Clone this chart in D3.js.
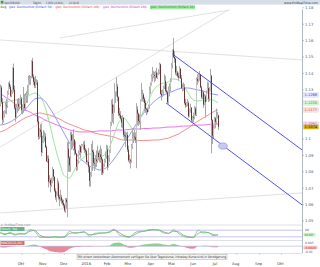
<!DOCTYPE html>
<html><head><meta charset="utf-8">
<script src="https://cdn.jsdelivr.net/npm/d3@7"></script>
<style>html,body{margin:0;padding:0;background:#fff;}svg{display:block;font-family:"DejaVu Sans",sans-serif;}</style>
</head><body><svg id="c" width="320" height="267"></svg>
<script>
// ---------- DATA ----------
const firstOpen = 1.1211; // close of 31.08.2015
const close = [
1.1314,1.1227,1.1118,1.1148,1.1168,1.1205,1.1201,1.1278,1.1337,1.1318,1.1264,1.1285,1.1433,1.1300,1.1190,1.1131,1.1193,1.1214,1.1198,1.1240,1.1246,1.1177,
1.1195,1.1214,1.1189,1.1262,1.1273,1.1278,1.1357,1.1364,1.1377,1.1474,1.1380,1.1349,1.1326,1.1345,1.1345,1.1108,1.1014,1.1056,1.1045,1.0920,1.0980,1.1005,
1.1015,1.0950,1.0865,1.0880,1.0740,1.0750,1.0720,1.0740,1.0815,1.0770,1.0685,1.0645,1.0660,1.0730,1.0645,1.0635,1.0645,1.0625,1.0610,1.0595,1.0565,
1.0630,1.0615,1.0940,1.0885,1.0840,1.0895,1.1025,1.0990,1.0990,1.0995,1.0935,1.0910,1.0830,1.0865,1.0915,1.0955,1.0920,1.0965,1.0965,1.0965,1.0935,1.0925,1.0860,
1.0860,1.0830,1.0745,1.0780,1.0930,1.0920,1.0855,1.0850,1.0875,1.0865,1.0915,1.0890,1.0905,1.0890,1.0875,1.0795,1.0845,1.0870,1.0895,1.0935,1.0830,
1.0885,1.0920,1.1100,1.1210,1.1155,1.1195,1.1290,1.1290,1.1320,1.1255,1.1155,1.1145,1.1125,1.1100,1.1130,1.1025,1.1020,1.1015,1.1025,1.0935,1.0870,
1.0870,1.0865,1.0955,1.1000,1.1015,1.1010,1.0995,1.1180,1.1155,1.1110,1.1105,1.1230,1.1270,1.1270,1.1245,1.1220,1.1185,1.1180,1.1165,1.1200,1.1300,1.1335,1.1380,
1.1390,1.1390,1.1385,1.1405,1.1375,1.1400,1.1405,1.1455,1.1275,1.1265,1.1285,1.1315,1.1355,1.1295,1.1285,1.1225,1.1265,1.1300,1.1320,1.1350,1.1450,
1.1545,1.1500,1.1490,1.1405,1.1405,1.1385,1.1375,1.1430,1.1370,1.1310,1.1315,1.1315,1.1220,1.1205,1.1220,1.1220,1.1140,1.1180,1.1190,1.1115,1.1135,1.1130,
1.1185,1.1150,1.1365,1.1355,1.1390,1.1395,1.1315,1.1255,1.1285,1.1210,1.1260,1.1225,1.1280,1.1310,1.1245,1.1295,1.1385,1.1115,1.1020,1.1065,1.1125,1.1105,
1.1135,1.1145,1.1074];
const high = [
1.1332,1.1325,1.1250,1.1170,1.1175,1.1225,1.1245,1.1295,1.1345,1.1355,1.1330,1.1300,1.1437,1.1460,1.1325,1.1215,1.1215,1.1245,1.1250,1.1245,1.1270,1.1255,
1.1212,1.1317,1.1275,1.1280,1.1290,1.1330,1.1387,1.1390,1.1385,1.1480,1.1495,1.1395,1.1375,1.1385,1.1365,1.1360,1.1135,1.1065,1.1090,1.1095,1.1020,1.1055,
1.1045,1.1035,1.0960,1.0900,1.0900,1.0780,1.0760,1.0765,1.0830,1.0815,1.0755,1.0700,1.0680,1.0760,1.0745,1.0660,1.0690,1.0660,1.0635,1.0630,1.0605,
1.0640,1.0640,1.0981,1.0990,1.0895,1.0900,1.1045,1.1045,1.1030,1.1060,1.1000,1.0985,1.0915,1.0875,1.0930,1.0965,1.0960,1.0970,1.0970,1.0985,1.0990,1.0945,1.0935,
1.0870,1.0945,1.0840,1.0800,1.0970,1.0990,1.0935,1.0885,1.0900,1.0930,1.0960,1.0925,1.0935,1.0960,1.0940,1.0880,1.0850,1.0880,1.0925,1.0965,1.0960,
1.0900,1.0935,1.1105,1.1240,1.1245,1.1210,1.1340,1.1290,1.1376,1.1335,1.1260,1.1190,1.1170,1.1140,1.1145,1.1130,1.1050,1.1045,1.1040,1.1045,1.0960,
1.0905,1.0880,1.0970,1.1065,1.1040,1.1055,1.1040,1.1218,1.1200,1.1160,1.1150,1.1240,1.1340,1.1300,1.1280,1.1255,1.1235,1.1190,1.1190,1.1210,1.1320,1.1345,1.1395,
1.1440,1.1415,1.1410,1.1415,1.1435,1.1405,1.1425,1.1465,1.1460,1.1300,1.1300,1.1325,1.1395,1.1385,1.1340,1.1295,1.1275,1.1320,1.1340,1.1370,1.1465,
1.1545,1.1616,1.1535,1.1495,1.1445,1.1415,1.1405,1.1445,1.1430,1.1390,1.1335,1.1345,1.1335,1.1245,1.1225,1.1245,1.1230,1.1185,1.1215,1.1195,1.1140,1.1160,
1.1200,1.1195,1.1375,1.1395,1.1395,1.1415,1.1395,1.1325,1.1300,1.1295,1.1275,1.1270,1.1295,1.1350,1.1345,1.1315,1.1427,1.1390,1.1120,1.1085,1.1135,1.1135,
1.1185,1.1165,1.1145];
const low = [
1.1200,1.1215,1.1087,1.1100,1.1130,1.1155,1.1150,1.1190,1.1270,1.1305,1.1255,1.1255,1.1275,1.1285,1.1180,1.1105,1.1125,1.1160,1.1170,1.1180,1.1210,1.1155,
1.1150,1.1160,1.1175,1.1170,1.1220,1.1220,1.1270,1.1330,1.1330,1.1370,1.1370,1.1330,1.1310,1.1310,1.1330,1.1095,1.0995,1.1000,1.1010,1.0895,1.0915,1.0975,
1.0985,1.0945,1.0860,1.0855,1.0705,1.0730,1.0675,1.0710,1.0730,1.0745,1.0675,1.0630,1.0615,1.0655,1.0630,1.0590,1.0620,1.0605,1.0595,1.0580,1.0555,
1.0550,1.0575,1.0524,1.0800,1.0800,1.0800,1.0880,1.0935,1.0950,1.0955,1.0900,1.0905,1.0805,1.0810,1.0850,1.0900,1.0885,1.0915,1.0955,1.0935,1.0915,1.0900,1.0850,
1.0850,1.0795,1.0710,1.0710,1.0770,1.0805,1.0835,1.0805,1.0825,1.0830,1.0855,1.0870,1.0860,1.0855,1.0780,1.0780,1.0790,1.0830,1.0855,1.0880,1.0810,
1.0825,1.0860,1.0915,1.1080,1.1100,1.1090,1.1160,1.1220,1.1260,1.1230,1.1140,1.1130,1.1120,1.1070,1.1065,1.1010,1.0990,1.0950,1.0990,1.0920,1.0860,
1.0850,1.0820,1.0855,1.0940,1.0975,1.0990,1.0975,1.0822,1.1085,1.1080,1.1090,1.1055,1.1230,1.1230,1.1225,1.1170,1.1160,1.1145,1.1155,1.1165,1.1185,1.1275,1.1325,
1.1350,1.1370,1.1345,1.1355,1.1370,1.1365,1.1390,1.1395,1.1270,1.1235,1.1255,1.1265,1.1305,1.1285,1.1275,1.1215,1.1215,1.1260,1.1260,1.1290,1.1350,
1.1430,1.1495,1.1465,1.1390,1.1385,1.1375,1.1355,1.1370,1.1365,1.1305,1.1290,1.1295,1.1210,1.1190,1.1195,1.1200,1.1130,1.1135,1.1160,1.1100,1.1100,1.1100,
1.1120,1.1140,1.1140,1.1330,1.1345,1.1355,1.1310,1.1245,1.1245,1.1190,1.1205,1.1130,1.1225,1.1280,1.1225,1.1230,1.1290,1.0912,1.0970,1.1005,1.1065,1.1065,
1.1090,1.1125,1.1055];

// indicator values read every 5 trading days (index 0,5,10,...,220)
const sampleStep = 5;
const sma20 = [1.1220,1.1226,1.1232,1.1238,1.1244,1.1250,1.1268,1.1280,1.1262,1.1201,1.1091,1.0963,1.0854,1.0774,1.0762,1.0811,1.0860,1.0890,1.0909,1.0902,1.0890,1.0902,1.0945,1.1024,1.1104,1.1128,1.1091,1.1055,1.1104,1.1177,1.1238,1.1299,1.1329,1.1341,1.1348,1.1366,1.1360,1.1329,1.1280,1.1238,1.1232,1.1238,1.1244,1.1238,1.1220];
const sma50 = [1.1085,1.1091,1.1104,1.1122,1.1146,1.1177,1.1213,1.1244,1.1250,1.1232,1.1189,1.1140,1.1085,1.1030,1.0976,1.0927,1.0884,1.0860,1.0835,1.0823,1.0811,1.0817,1.0841,1.0878,1.0921,1.0970,1.1018,1.1067,1.1116,1.1159,1.1195,1.1226,1.1250,1.1268,1.1280,1.1293,1.1305,1.1311,1.1311,1.1305,1.1299,1.1293,1.1280,1.1274,1.1268];
const sma100 = [1.1043,1.1055,1.1073,1.1091,1.1110,1.1128,1.1140,1.1152,1.1159,1.1152,1.1146,1.1134,1.1122,1.1104,1.1091,1.1079,1.1067,1.1055,1.1049,1.1037,1.1030,1.1024,1.1018,1.1012,1.1000,1.0994,1.0994,1.0994,1.0991,1.0991,1.0991,1.0994,1.0994,1.1000,1.1006,1.1018,1.1030,1.1049,1.1067,1.1091,1.1110,1.1128,1.1146,1.1165,1.1177];
const sma200 = [1.1280,1.1256,1.1238,1.1213,1.1195,1.1177,1.1165,1.1146,1.1134,1.1116,1.1104,1.1091,1.1079,1.1067,1.1055,1.1049,1.1043,1.1043,1.1043,1.1046,1.1049,1.1049,1.1049,1.1052,1.1055,1.1055,1.1058,1.1061,1.1061,1.1064,1.1064,1.1067,1.1067,1.1070,1.1073,1.1073,1.1076,1.1079,1.1079,1.1082,1.1085,1.1085,1.1088,1.1091,1.1091];
const stochK = [60,40,60,35,50,45,85,70,15,15,15,20,15,20,70,50,60,65,25,50,55,55,65,90,40,25,15,50,70,70,85,85,80,55,50,85,50,25,15,15,80,55,60,30,40];
const stochD = [55,48,50,45,45,47,70,78,35,18,15,18,17,18,50,58,57,63,40,40,52,55,60,80,60,32,20,35,60,70,78,85,82,65,52,70,65,35,20,15,50,65,58,42,35];
const macdMilli = [-2,-2.5,-1,0.5,0,0.5,2,3,-1,-5,-9,-11,-12,-11,-5,-2,-1.5,-0.5,-1,-0.5,-0.5,0.5,1,6,7,3,-3,-2.5,1,3,4,5,5,3,2,4,2,-1,-4,-5,0,1,1,-2,-2];

// drawn objects: [trading-day index, price]
const channelUpper = [[174,1.1518],[305,1.0933]];
const channelLower = [[167.5,1.1220],[305,1.0598]];
const grayLines = [
  [[0,1.0951],[242,1.1829]],
  [[0,1.1604],[305,1.1482]],
  [[60,1.1616],[232,1.1787]],
  [[0,1.0549],[305,1.0671]]
];
const markEllipse = [225, 1.0957];

const yTickValues = [1.05,1.06,1.07,1.08,1.09,1.10,1.13,1.14,1.15,1.16,1.17,1.18];
const yTickLabels = ["1.05","1.06","1.07","1.08","1.09","1.1","1.13","1.14","1.15","1.16","1.17","1.18"];
const monthLabels = ["Okt","Nov","Dez","2016","Feb","Mrz","Apr","Mai","Jun","Jul","Aug","Sep","Okt"];
const legendItems = [
  {t:"gleit. Durchschnitt (Einfach 50)", c:"#3535e0"},
  {t:"gleit. Durchschnitt (Einfach 100)", c:"#e03030"},
  {t:"gleit. Durchschnitt (Einfach 200)", c:"#c030c0"},
  {t:"gleit. Durchschnitt (Einfach 20)", c:"#1a8a1a"}
];

// ---------- LAYOUT ----------
const svg = d3.select("#c");
const plotR = 302;
const mainTop = 9.5, mainBot = 223;
const stTop = 227, stBot = 240;
const mdTop = 241, mdBot = 253;

const days = d3.timeDay.range(new Date(2015,8,1), new Date(2016,10,1)).filter(d => d.getDay()%6 !== 0);
const x = d3.scaleLinear().domain([0,305]).range([0.2, 0.2+305*0.99]);
const y = d3.scaleLinear().domain([1.05,1.18]).range([221,7.8]);
const ySt = d3.scaleLinear().domain([0,100]).range([stBot-1, stTop+1]);
const yMd = d3.scaleLinear().domain([-13,8]).range([mdBot, mdTop+1]);

// header
svg.append("rect").attr("x",0).attr("y",0).attr("width",320).attr("height",4.6).attr("fill","#d6dee8");
svg.append("rect").attr("x",0.8).attr("y",0.8).attr("width",2.6).attr("height",2.8).attr("fill","#3aa040");
const hdr = [["Spot EUR/USD",4.5,15],["Täglich",33,8],["1.1074 (-0.44%)",46,17],["21:18:43",69,10]];
hdr.forEach(h => svg.append("text").attr("x",h[1]).attr("y",3.6).attr("font-size",3).attr("fill","#333")
  .attr("textLength",h[2]).attr("lengthAdjust","spacingAndGlyphs").text(h[0]));
svg.append("text").attr("x",318).attr("y",3.6).attr("text-anchor","end").attr("font-size",3).attr("fill","#333").text("www.ProRealTime.com");

// legend line
svg.append("text").attr("x",0.5).attr("y",8.4).attr("font-size",3).attr("fill","#333").text("Avg:");
let lx = 9;
const lw = [43,44,44,44];
legendItems.forEach((d,k) => {
  if (k===3) svg.append("rect").attr("x",lx-0.5).attr("y",5.2).attr("width",lw[k]+1).attr("height",4.1).attr("fill","#a8e8a8");
  svg.append("text").attr("x",lx).attr("y",8.4).attr("font-size",3).attr("fill",d.c)
    .attr("textLength",lw[k]).attr("lengthAdjust","spacingAndGlyphs").text(d.t);
  lx += lw[k]+3.5;
});

// clip
svg.append("clipPath").attr("id","mc").append("rect").attr("x",0).attr("y",mainTop).attr("width",plotR).attr("height",mainBot-mainTop);
const g = svg.append("g").attr("clip-path","url(#mc)");

grayLines.forEach(l => g.append("line").attr("x1",x(l[0][0])).attr("y1",y(l[0][1])).attr("x2",x(l[1][0])).attr("y2",y(l[1][1]))
  .attr("stroke","#d4d4d4").attr("stroke-width",0.7));

const maLine = d3.line().x((d,k)=>x(k*sampleStep)).y(d=>y(d)).curve(d3.curveMonotoneX);
[[sma200,"#e84de8"],[sma100,"#f07070"],[sma50,"#7c7cf0"],[sma20,"#7fe07f"]].forEach(m =>
  g.append("path").attr("d",maLine(m[0])).attr("fill","none").attr("stroke",m[1]).attr("stroke-width",0.8));

close.forEach((c,i) => {
  const o = i===0 ? firstOpen : close[i-1];
  const h = Math.max(high[i],o,c), l = Math.min(low[i],o,c);
  const cx = Math.round(x(i));
  g.append("line").attr("x1",cx+0.5).attr("x2",cx+0.5).attr("y1",y(h)).attr("y2",y(l)).attr("stroke","#a9a9a9").attr("stroke-width",1);
  const top = y(Math.max(o,c)), bh = Math.max(0.8, Math.abs(y(o)-y(c)));
  g.append("rect").attr("x",cx).attr("y",top).attr("width",1).attr("height",bh).attr("fill", c>=o ? "#c4c4c4" : "#6a3434");
});

[channelUpper,channelLower].forEach(l => g.append("line").attr("x1",x(l[0][0])).attr("y1",y(l[0][1])).attr("x2",x(l[1][0])).attr("y2",y(l[1][1]))
  .attr("stroke","#3d3df0").attr("stroke-width",0.9));
g.append("ellipse").attr("cx",x(markEllipse[0])).attr("cy",y(markEllipse[1])).attr("rx",4.3).attr("ry",3.1)
  .attr("fill","#c8c8f0").attr("stroke","#8a8ad8").attr("stroke-width",0.6);

svg.append("text").attr("x",0.5).attr("y",225.5).attr("font-size",3).attr("fill","#666").text("© ProRealTime.com");

// right axis
svg.append("line").attr("x1",plotR+0.5).attr("x2",plotR+0.5).attr("y1",mainTop).attr("y2",mdBot).attr("stroke","#9aa4b0").attr("stroke-width",0.8);
yTickValues.forEach((v,k) => {
  svg.append("line").attr("x1",plotR).attr("x2",plotR+2).attr("y1",y(v)).attr("y2",y(v)).attr("stroke","#9aa4b0").attr("stroke-width",0.6);
  svg.append("text").attr("x",plotR+3).attr("y",y(v)+1.4).attr("font-size",3.8).attr("fill","#555").text(yTickLabels[k]);
});
const tags = [
  [sma50[sma50.length-1],"#e6e6fa","#3535e0"],
  [sma20[sma20.length-1],"#d6f5d6","#2a9a2a"],
  [sma100[sma100.length-1],"#fbe0e0","#e03030"],
  [sma200[sma200.length-1],"#f6dcf6","#c030c0"],
  [close[close.length-1],"#d8a800","#222"]
];
tags.forEach(t => {
  svg.append("rect").attr("x",plotR+1.5).attr("y",y(t[0])-2.2).attr("width",15).attr("height",4.4).attr("fill",t[1]).attr("stroke","#ccc").attr("stroke-width",0.3);
  svg.append("text").attr("x",plotR+2.5).attr("y",y(t[0])+1.3).attr("font-size",3.6).attr("fill",t[2]).text(t[0].toFixed(4));
});

[[mainBot+2],[stBot+0.5],[mdBot+0.5]].forEach(p => svg.append("line").attr("x1",0).attr("x2",plotR).attr("y1",p[0]).attr("y2",p[0]).attr("stroke","#c8ccd4").attr("stroke-width",0.6));

// stochastic panel
[80,20].forEach(v => svg.append("line").attr("x1",0).attr("x2",plotR).attr("y1",ySt(v)).attr("y2",ySt(v)).attr("stroke","#b0a8e8").attr("stroke-width",0.7));
const stLine = d3.line().x((d,k)=>x(k*sampleStep)).y(d=>ySt(d)).curve(d3.curveMonotoneX);
svg.append("path").attr("d",stLine(stochD)).attr("fill","none").attr("stroke","#6a7a5a").attr("stroke-width",0.6);
svg.append("path").attr("d",stLine(stochK)).attr("fill","none").attr("stroke","#5ad25a").attr("stroke-width",0.8);
svg.append("rect").attr("x",0.5).attr("y",stTop).attr("width",24).attr("height",4).attr("fill","#66b28c");
svg.append("text").attr("x",1.2).attr("y",stTop+3.1).attr("font-size",3.2).attr("fill","#fff").text("Stoch. %K");
svg.append("text").attr("x",plotR+3).attr("y",ySt(80)+0.6).attr("font-size",3).attr("fill","#555").text("80");
const kLast = stochK[stochK.length-1];
svg.append("rect").attr("x",plotR+1.5).attr("y",ySt(kLast)-1.8).attr("width",12).attr("height",3.6).attr("fill","#c8f0c8");
svg.append("text").attr("x",plotR+2.3).attr("y",ySt(kLast)+1.1).attr("font-size",3).attr("fill","#2a9a2a").text(kLast.toFixed(2));

// MACD panel
const z = yMd(0);
const aPos = d3.area().x((d,k)=>x(k*sampleStep)).y0(z).y1(d=>yMd(Math.max(0,d))).curve(d3.curveMonotoneX);
const aNeg = d3.area().x((d,k)=>x(k*sampleStep)).y0(z).y1(d=>yMd(Math.min(0,d))).curve(d3.curveMonotoneX);
svg.append("path").attr("d",aPos(macdMilli)).attr("fill","#8fd08f");
svg.append("path").attr("d",aNeg(macdMilli)).attr("fill","#e8899a");
svg.append("line").attr("x1",0).attr("x2",plotR).attr("y1",z).attr("y2",z).attr("stroke","#b0a8e8").attr("stroke-width",0.6);
svg.append("rect").attr("x",0.5).attr("y",mdTop).attr("width",24).attr("height",4).attr("fill","#d07070");
svg.append("text").attr("x",1.2).attr("y",mdTop+3.1).attr("font-size",3.2).attr("fill","#fff").text("MACD(12,26)");
svg.append("text").attr("x",plotR+3).attr("y",yMd(6)+1).attr("font-size",3).attr("fill","#555").text("0.005");
svg.append("text").attr("x",plotR+3).attr("y",yMd(-11)+1).attr("font-size",3).attr("fill","#555").text("-0.01");
svg.append("rect").attr("x",plotR+1.5).attr("y",yMd(-2.5)-1.8).attr("width",14).attr("height",3.6).attr("fill","#f4c8c8");
svg.append("text").attr("x",plotR+2.3).attr("y",yMd(-2.5)+1.1).attr("font-size",3).attr("fill","#c03030").text("-0.0020");

// notice box
svg.append("rect").attr("x",77).attr("y",254.5).attr("width",150).attr("height",5).attr("fill","#f4f4f4").attr("stroke","#999").attr("stroke-width",0.4);
svg.append("text").attr("x",78).attr("y",258.3).attr("font-size",3.4).attr("fill","#333").attr("textLength",148).attr("lengthAdjust","spacingAndGlyphs")
  .text("Mit einem kostenlosen Abonnement verfügen Sie über Tageskurse. Intraday-Kurse sind in Verzögerung");

// x axis months
const monthStarts = [];
days.forEach((d,i) => { if (i>0 && d.getMonth() !== days[i-1].getMonth()) monthStarts.push(i); });
monthStarts.forEach((i,k) => {
  svg.append("line").attr("x1",x(i)).attr("x2",x(i)).attr("y1",mdBot+0.5).attr("y2",mdBot+2).attr("stroke","#aaa").attr("stroke-width",0.5);
  svg.append("text").attr("x",x(i)-1).attr("y",264.5).attr("text-anchor","middle").attr("font-size",3.8).attr("fill","#444").text(monthLabels[k]);
});
</script></body></html>
